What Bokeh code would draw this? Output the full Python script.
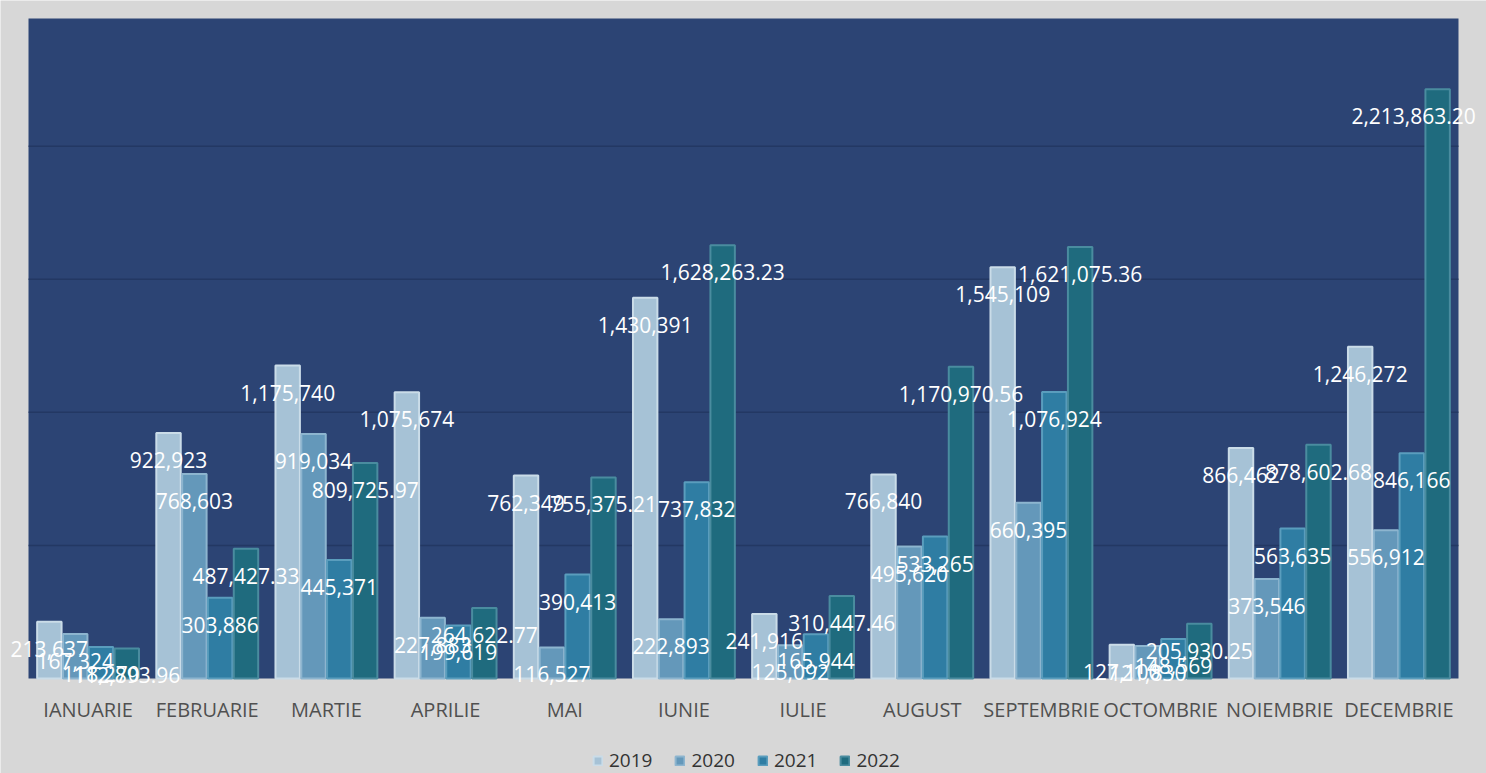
from bokeh.plotting import figure
from bokeh.models import ColumnDataSource, Range1d, LabelSet, Legend, LegendItem
from bokeh.core.properties import value
from bokeh.embed import file_html
from bokeh.resources import INLINE

months = ["IANUARIE", "FEBRUARIE", "MARTIE", "APRILIE", "MAI", "IUNIE", "IULIE",
          "AUGUST", "SEPTEMBRIE", "OCTOMBRIE", "NOIEMBRIE", "DECEMBRIE"]
years = ["2019", "2020", "2021", "2022"]

v2019 = [213637, 922923, 1175740, 1075674, 762349, 1430391, 241916, 766840, 1545109, 127100, 866462, 1246272]
v2020 = [167324, 768603, 919034, 227883, 116527, 222893, 125092, 495620, 660395, 121830, 373546, 556912]
v2021 = [118270, 303886, 445371, 199619, 390413, 737832, 165944, 533265, 1076924, 148569, 563635, 846166]
v2022 = [112893.96, 487427.33, 809725.97, 264622.77, 755375.21, 1628263.23, 310447.46, 1170970.56, 1621075.36, 205930.25, 878602.68, 2213863.20]

series = [v2019, v2020, v2021, v2022]
fills = ["#a6c2d6", "#6498ba", "#2f7da3", "#1f6b7e"]
lines = ["#cadce8", "#8db5cf", "#5a9dbd", "#4a8c9f"]
offsets = [-0.325, -0.108, 0.108, 0.325]

YMAX = 2.48e6
W, H = 1486, 773
TOP_PX, PLOT_PX, BOTTOM_PX = 18, 660, 95   # layout of the page, in pixels
PAD = 0.235  # gray margin either side of the blue plot area, in category units

def fmt(v, dec):
    return f"{v:,.2f}" if dec else f"{v:,.0f}"

n = len(months)
per_px = YMAX / PLOT_PX
p = figure(x_range=Range1d(-0.5 - PAD, n - 0.5 + PAD),
           y_range=Range1d(-BOTTOM_PX * per_px, YMAX + TOP_PX * per_px),
           frame_width=W, frame_height=H,
           output_backend="svg", toolbar_location=None,
           min_border_left=0, min_border_right=0, min_border_top=0, min_border_bottom=0)
p.background_fill_color = "#d7d7d7"
p.border_fill_color = "#d7d7d7"
p.outline_line_color = None
p.xgrid.visible = False
p.ygrid.visible = False
p.xaxis.visible = False
p.yaxis.visible = False

# blue plot area
p.quad(left=[-0.5], right=[n - 0.5], bottom=[0], top=[YMAX],
       fill_color="#2c4474", line_color=None, level="image")
# faint horizontal gridlines every 500,000
grid_vals = [500000 * k for k in range(1, int(YMAX // 500000) + 1)]
p.segment(x0=[-0.5] * len(grid_vals), x1=[n - 0.5] * len(grid_vals), y0=grid_vals, y1=grid_vals,
          line_color="#22365f", line_width=1.5, line_alpha=0.8, level="image")

# category labels under the plot area
cat_src = ColumnDataSource(dict(x=list(range(n)), y=[0] * n, label=months))
p.add_layout(LabelSet(x="x", y="y", text="label", source=cat_src, y_offset=-31,
                      text_align="center", text_baseline="middle", text_color="#505050",
                      text_font=value("Open Sans"), text_font_size="20px"))

renderers = []
sources = []
for i, (yr, vals) in enumerate(zip(years, series)):
    # the right-most label is nudged left so it stays inside the picture
    xoff = [(-24 if (i == 3 and k == n - 1) else 0) for k in range(n)]
    src = ColumnDataSource(dict(x=[k + offsets[i] for k in range(n)], value=vals, xoff=xoff,
                                label=[fmt(v, i == 3) for v in vals]))
    sources.append(src)
    r = p.vbar(x="x", top="value", width=0.205, source=src,
               fill_color=fills[i], line_color=lines[i], line_width=2)
    renderers.append(r)

for i, src in enumerate(sources):
    lbl = LabelSet(x="x", y="value", text="label", source=src,
                   y_offset=-27, x_offset="xoff", text_align="center",
                   text_baseline="middle", text_color="white",
                   text_font=value("Open Sans"), text_font_size="21px")
    p.add_layout(lbl)

legend = Legend(items=[LegendItem(label=yr, renderers=[r]) for yr, r in zip(years, renderers)],
                orientation="horizontal", location=(592, 0))
legend.background_fill_alpha = 0
legend.border_line_color = None
legend.label_text_font = "Open Sans"
legend.label_text_font_size = "19px"
legend.label_text_color = "#333333"
legend.glyph_width = 11
legend.glyph_height = 11
legend.label_standoff = 6
legend.spacing = 22
legend.margin = 0
legend.padding = 2
p.add_layout(legend, "center")

open("out.html", "w").write(file_html(p, INLINE))
